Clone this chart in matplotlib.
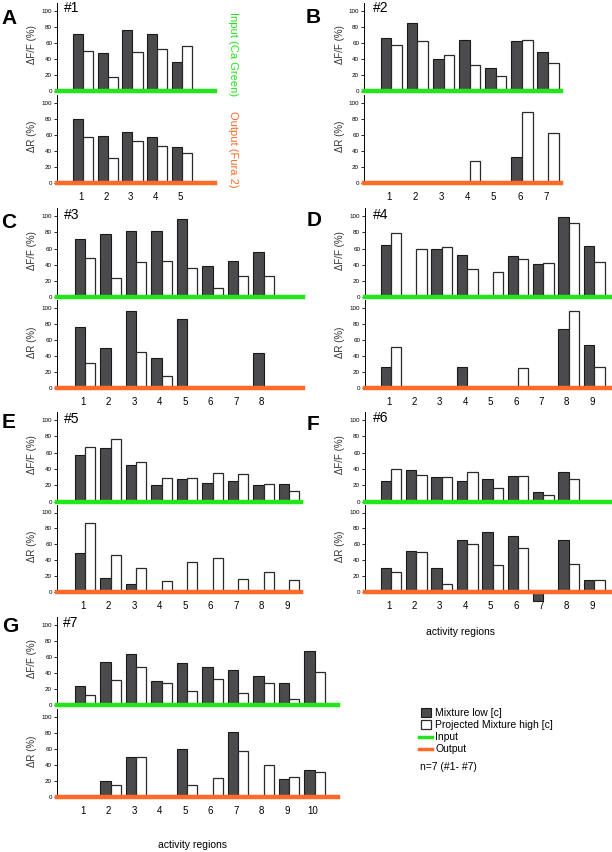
import numpy as np
import matplotlib.pyplot as plt

plt.rcParams['font.family'] = ['Liberation Sans', 'DejaVu Sans']

nan = np.nan

# #1
p1_in_low = [71, 47, 76, 71, 36]
p1_in_high = [50, 18, 49, 52, 56]
p1_out_low = [80, 59, 64, 58, 45]
p1_out_high = [57, 31, 53, 46, 37]
# #2
p2_in_low = [66, 85, 40, 64, 29, 62, 48]
p2_in_high = [57, 62, 45, 32, 19, 63, 35]
p2_out_low = [nan, nan, nan, nan, nan, 33, nan]
p2_out_high = [nan, nan, nan, 28, nan, 88, 63]
# #3
p3_in_low = [72, 78, 82, 81, 96, 38, 45, 56]
p3_in_high = [48, 24, 43, 45, 36, 12, 26, 26]
p3_out_low = [77, 50, 97, 38, 86, nan, nan, 44]
p3_out_high = [31, nan, 45, 15, nan, nan, nan, nan]
# #4
p4_in_low = [64, nan, 60, 52, nan, 51, 41, 99, 63]
p4_in_high = [79, 59, 62, 35, 31, 47, 42, 91, 43]
p4_out_low = [27, nan, nan, 26, nan, nan, nan, 74, 54]
p4_out_high = [52, nan, nan, nan, nan, 25, nan, 97, 27]
# #5
p5_in_low = [57, 66, 45, 20, 28, 23, 25, 20, 22]
p5_in_high = [67, 77, 49, 29, 29, 35, 34, 21, 13]
p5_out_low = [49, 18, 10, nan, nan, nan, nan, nan, nan]
p5_out_high = [87, 47, 30, 14, 38, 43, 17, 26, 16]
# #6
p6_in_low = [25, 39, 30, 25, 28, 31, 12, 36, nan]
p6_in_high = [40, 32, 30, 36, 16, 31, 8, 28, nan]
p6_out_low = [30, 52, 31, 66, 76, 70, -11, 65, 16]
p6_out_high = [26, 51, 10, 60, 34, 56, nan, 36, 16]
# #7
p7_in_low = [24, 54, 64, 30, 53, 47, 44, 36, 27, 68]
p7_in_high = [12, 31, 48, 27, 17, 33, 15, 27, 7, 41]
p7_out_low = [nan, 21, 50, nan, 60, nan, 82, nan, 23, 34]
p7_out_high = [nan, 15, 50, nan, 16, 24, 58, 40, 26, 32]

W, H = 612, 852
GREEN = '#22e51c'
ORANGE = '#ff6a28'
DARK = '#4b4b4d'

fig = plt.figure(figsize=(W / 100, H / 100), dpi=100)


def add_ax(left, right, y0, y100):
    top = y0 - (y0 - y100) * 1.1
    return fig.add_axes([left / W, 1 - y0 / H, (right - left) / W, (y0 - top) / H])


def draw_pair(ax, low, high, geo, line_color, labels):
    left, right, c1, sp = geo
    x = np.arange(1, len(low) + 1)
    ax.bar(x - 0.33, low, width=0.41, align='edge', color=DARK,
           edgecolor='#1a1a1a', linewidth=0.8, zorder=2, clip_on=False)
    ax.bar(x + 0.08, high, width=0.41, align='edge', color='white',
           edgecolor='#2a2a2a', linewidth=0.9, zorder=2, clip_on=False)
    ax.set_xlim(1 - (c1 - left) / sp, 1 + (right - c1) / sp)
    ax.set_ylim(0, 110)
    ax.axhline(0, color=line_color, lw=3.2, zorder=3, clip_on=False)
    for s in ['top', 'right', 'bottom']:
        ax.spines[s].set_visible(False)
    ax.spines['left'].set_linewidth(0.7)
    ax.set_yticks(range(0, 101, 20))
    ax.tick_params(axis='y', labelsize=4.5, length=2.5, width=0.6, pad=1)
    if labels:
        ax.set_xticks(x)
        ax.set_xticklabels([str(i) for i in x])
        ax.tick_params(axis='x', length=0, labelsize=7, pad=6)
    else:
        ax.set_xticks([])
    ax.patch.set_alpha(0)


def ftext(x, y, s, **kw):
    fig.text(x / W, 1 - y / H, s, **kw)


# letter, tag, data, (left, right, c1, sp), (y0 top, y100 top, y0 bottom, y100 bottom), letter pos, tag pos, ylabel x
panels = [
    ('A', '#1', (p1_in_low, p1_in_high, p1_out_low, p1_out_high), (57, 215, 81, 24.75),
     (91, 10.7, 183.3, 102.7), (9.5, 18.5), (64, 8), 32),
    ('B', '#2', (p2_in_low, p2_in_high, p2_out_low, p2_out_high), (364, 561, 389.3, 26.1),
     (91, 10.7, 183.3, 102.7), (313, 17.5), (373, 8.5), 340),
    ('C', '#3', (p3_in_low, p3_in_high, p3_out_low, p3_out_high), (57, 303, 83, 25.5),
     (297.3, 216, 388.3, 308.3), (9, 222), (64, 215), 32),
    ('D', '#4', (p4_in_low, p4_in_high, p4_out_low, p4_out_high), (365, 610, 389, 25.4),
     (297.3, 216, 388.3, 308.3), (314, 220), (373, 215), 340),
    ('E', '#5', (p5_in_low, p5_in_high, p5_out_low, p5_out_high), (57, 301, 83, 25.5),
     (501.5, 420, 592.3, 512.5), (9, 423), (64, 419.5), 32),
    ('F', '#6', (p6_in_low, p6_in_high, p6_out_low, p6_out_high), (365, 610, 389, 25.4),
     (501.5, 420, 592.3, 512.5), (313, 424), (373, 418), 340),
    ('G', '#7', (p7_in_low, p7_in_high, p7_out_low, p7_out_high), (57, 338, 83, 25.5),
     (705, 625, 797.3, 717.3), (10, 626), (63, 623), 32),
]

for letter, tag, d, geo, ys, lpos, tpos, ylx in panels:
    ax_in = add_ax(geo[0], geo[1], ys[0], ys[1])
    draw_pair(ax_in, d[0], d[1], geo, GREEN, False)
    ax_out = add_ax(geo[0], geo[1], ys[2], ys[3])
    draw_pair(ax_out, d[2], d[3], geo, ORANGE, True)
    ftext(lpos[0], lpos[1], letter, fontsize=15, fontweight='bold', ha='center', va='center')
    ftext(tpos[0], tpos[1], tag, fontsize=10, ha='left', va='center')
    ftext(ylx, ys[0] - 0.58 * (ys[0] - ys[1]), 'ΔF/F (%)', fontsize=7, rotation=90,
          ha='center', va='center', color='#333333')
    ftext(ylx, ys[2] - 0.58 * (ys[2] - ys[3]), 'ΔR (%)', fontsize=7, rotation=90,
          ha='center', va='center', color='#333333')

ftext(233, 54, 'Input (Ca Green)', fontsize=8, rotation=270, ha='center', va='center', color=GREEN)
ftext(233, 149, 'Output (Fura 2)', fontsize=8, rotation=270, ha='center', va='center', color=ORANGE)

ftext(460, 632, 'activity regions', fontsize=7.5, ha='center', va='center')
ftext(193, 845, 'activity regions', fontsize=7.5, ha='center', va='center')

# legend
leg = fig.add_axes([0, 0, 1, 1])
leg.set_xlim(0, W)
leg.set_ylim(H, 0)
leg.axis('off')
leg.add_patch(plt.Rectangle((421, 708), 10, 9, facecolor=DARK, edgecolor='#1a1a1a', lw=0.8))
leg.add_patch(plt.Rectangle((421, 720), 10, 9, facecolor='white', edgecolor='#2a2a2a', lw=0.9))
leg.plot([419, 432], [737, 737], color=GREEN, lw=2.5)
leg.plot([419, 432], [749, 749], color=ORANGE, lw=2.5)
leg.text(435, 712.5, 'Mixture low [c]', fontsize=7.5, va='center')
leg.text(435, 724.5, 'Projected Mixture high [c]', fontsize=7.5, va='center')
leg.text(435, 737, 'Input', fontsize=7.5, va='center')
leg.text(435, 749, 'Output', fontsize=7.5, va='center')
leg.text(420, 767, 'n=7 (#1- #7)', fontsize=7.5, va='center')

fig.savefig('out.png', dpi=100)
